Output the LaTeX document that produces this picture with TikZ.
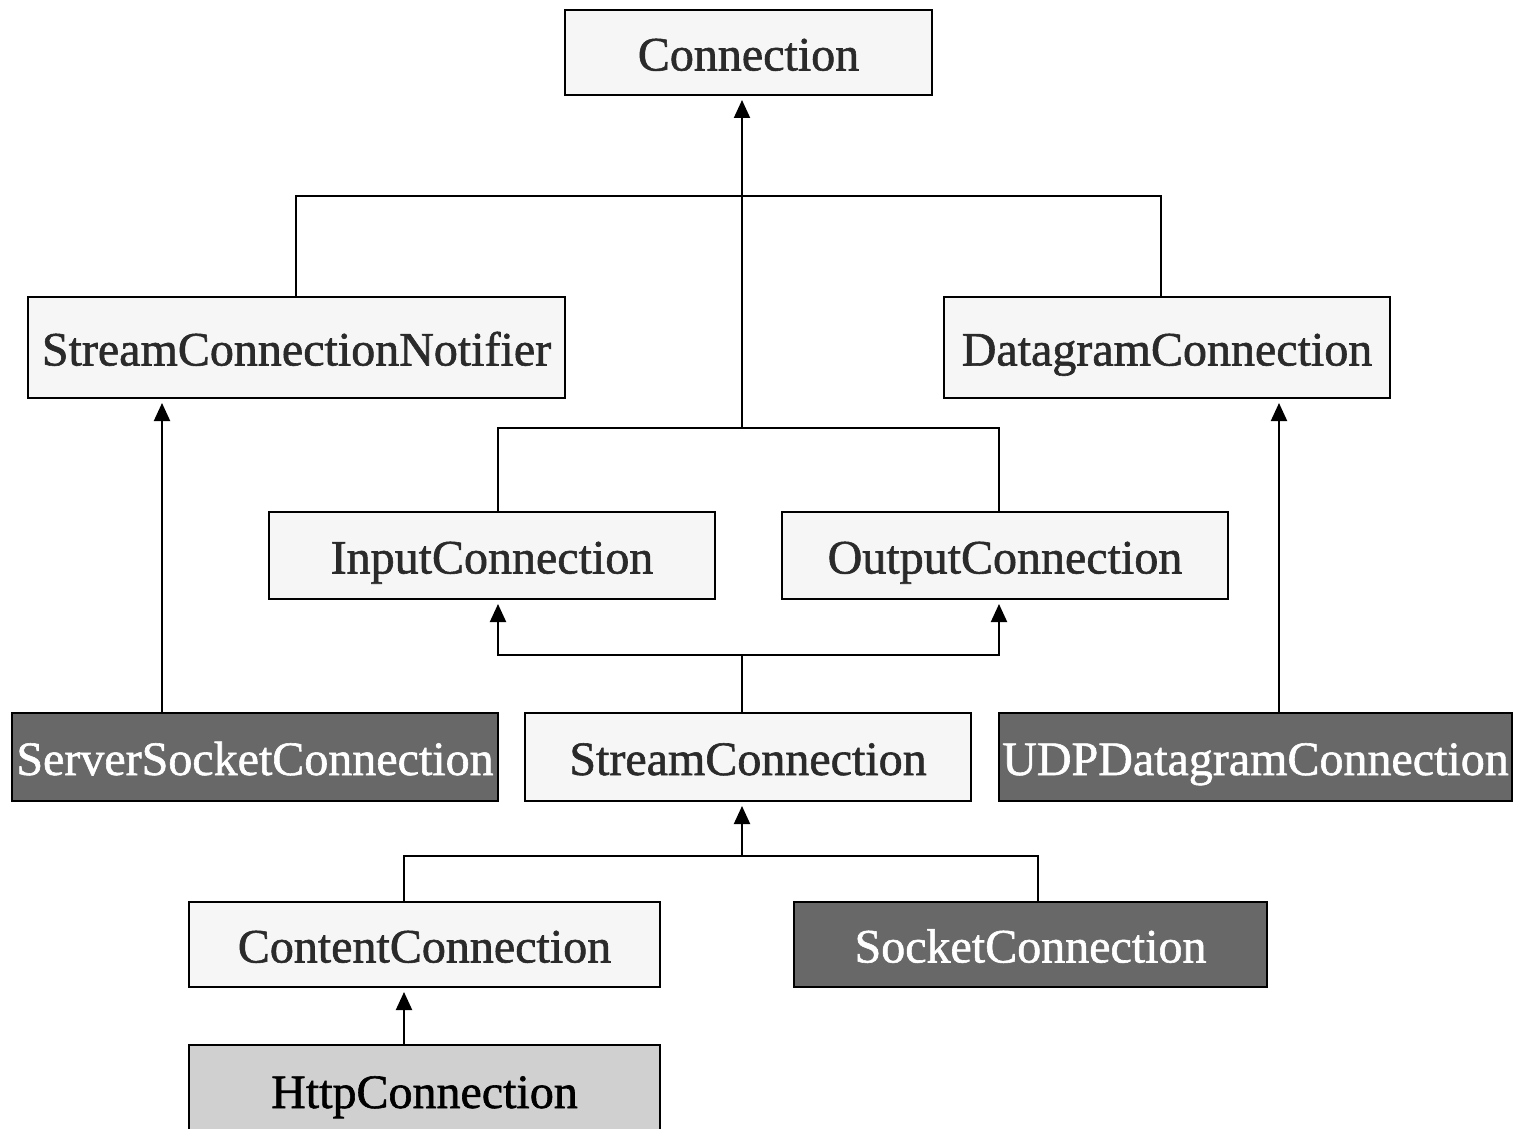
\documentclass[tikz,border=0pt]{standalone}
\usepackage{fontspec}
\setmainfont{Liberation Serif}
\newfontfamily\boxfont[FakeBold=1.2]{Liberation Serif}
\usetikzlibrary{arrows.meta}
\definecolor{lightfill}{HTML}{F6F6F6}
\definecolor{darkfill}{HTML}{686868}
\definecolor{httpfill}{HTML}{D0D0D0}
\definecolor{txtgray}{HTML}{2A2A2A}
\begin{document}
\begin{tikzpicture}[x=0.5pt,y=-0.5pt,
  box/.style={draw=black, line width=1pt, inner sep=0pt, text height=18pt, text depth=0pt, font=\boxfont\fontsize{24}{28}\selectfont},
  lightbox/.style={box, fill=lightfill, text=txtgray},
  darkbox/.style={box, fill=darkfill, text=white},
  httpbox/.style={box, fill=httpfill, text=black},
  link/.style={line width=1pt, draw=black},
  arr/.style={link, -{Triangle[length=9pt,width=8pt]}, shorten >=2pt}]
\useasboundingbox (0,0) rectangle (1515,1129);
\fill[white] (0,0) rectangle (1515,1129);
\clip (0,0) rectangle (1515,1129);

\node[lightbox, minimum width=183.5pt, minimum height=42.5pt] (conn) at (748.5,52.5) {Connection};
\node[lightbox, minimum width=268.5pt, minimum height=50.5pt] (scn) at (296.5,347.5) {StreamConnectionNotifier};
\node[lightbox, minimum width=223pt, minimum height=50.5pt] (dc) at (1167,347.5) {DatagramConnection};
\node[lightbox, minimum width=223pt, minimum height=43.5pt] (ic) at (492,555.5) {InputConnection};
\node[lightbox, minimum width=223pt, minimum height=43.5pt] (oc) at (1005,555.5) {OutputConnection};
\node[darkbox, minimum width=243pt, minimum height=44pt] (ssc) at (255,757) {ServerSocketConnection};
\node[lightbox, minimum width=223pt, minimum height=44pt] (sc) at (748,757) {StreamConnection};
\node[darkbox, minimum width=256.5pt, minimum height=44pt] (udp) at (1255.5,757) {UDPDatagramConnection};
\node[lightbox, minimum width=235.5pt, minimum height=42.5pt] (cc) at (424.5,944.5) {ContentConnection};
\node[darkbox, minimum width=236.5pt, minimum height=42.5pt] (sock) at (1030.5,944.5) {SocketConnection};
\node[httpbox, minimum width=235.5pt, minimum height=45pt] (http) at (424.5,1090) {HttpConnection};

% joins
\coordinate (t1) at (296,196);
\coordinate (t2) at (1161,196);
\coordinate (j2) at (742,428);
\coordinate (i2) at (498,428);
\coordinate (o2) at (999,428);
\coordinate (a1) at (162,405);
\coordinate (a2) at (1279,405);
\coordinate (j3) at (742,655);
\coordinate (i3) at (498,655);
\coordinate (o3) at (999,655);
\coordinate (j4) at (742,856);
\coordinate (c4) at (404,856);
\coordinate (s4) at (1038,856);

% Connection hierarchy
\draw[arr] (j2) -- (j2 |- conn.south);
\draw[link] (scn.north -| t1) -- (t1) -- (t2) -- (dc.north -| t2);
\draw[link] (ic.north -| i2) -- (i2) -- (o2) -- (oc.north -| o2);

% side arrows
\draw[arr] (ssc.north -| a1) -- (a1 |- scn.south);
\draw[arr] (udp.north -| a2) -- (a2 |- dc.south);

% StreamConnection to Input/Output
\draw[link] (sc.north -| j3) -- (j3);
\draw[arr] (j3) -- (i3) -- (i3 |- ic.south);
\draw[arr] (j3) -- (o3) -- (o3 |- oc.south);

% Content/Socket to StreamConnection
\draw[arr] (j4) -- (j4 |- sc.south);
\draw[link] (cc.north -| c4) -- (c4) -- (s4) -- (sock.north -| s4);

% Http to Content
\draw[arr] (http.north -| c4) -- (c4 |- cc.south);
\end{tikzpicture}
\end{document}
